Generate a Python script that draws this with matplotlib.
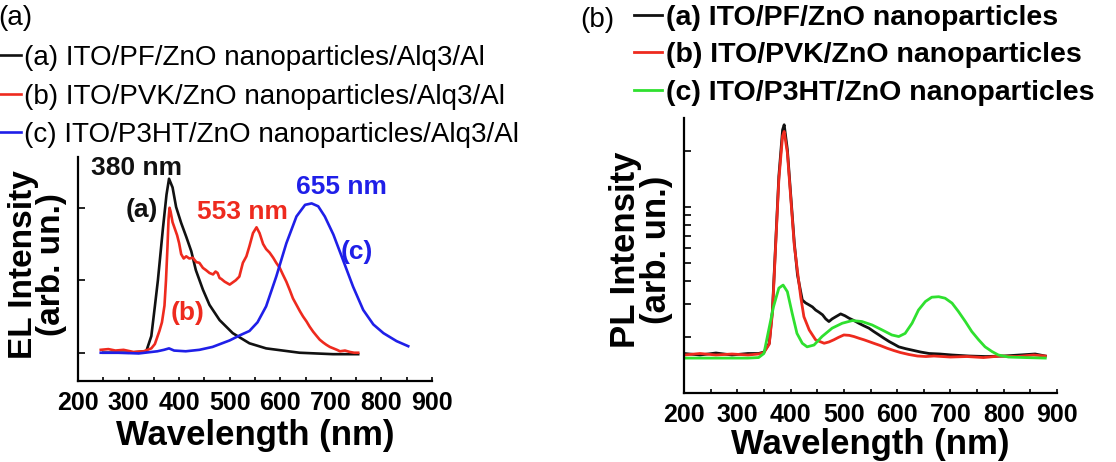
import matplotlib
matplotlib.use('Agg')
import matplotlib.pyplot as plt
from matplotlib.ticker import MultipleLocator, FixedLocator, NullFormatter

plt.rcParams['font.family'] = ['Liberation Sans', 'DejaVu Sans']

# ---- EL spectra (left panel), intensity in arbitrary units ----
el_wl_a = [250, 300, 335, 345, 352, 358, 368, 375, 380, 387, 394, 404, 414, 424,
           433, 447, 460, 480, 506, 539, 572, 638, 704, 754]
el_a = [0.0, 0.0, 0.02, 0.23, 0.64, 1.0, 1.72, 2.18, 2.4, 2.28, 2.01, 1.79, 1.6, 1.4,
        1.14, 0.87, 0.66, 0.45, 0.27, 0.13, 0.06, 0.0, -0.02, -0.02]

el_wl_b = [245, 260, 274, 290, 310, 330, 345, 352, 356, 361, 366, 371, 374, 377, 379,
           381, 383, 387, 391, 396, 400, 404, 409, 414, 420, 427, 434, 440, 447, 453,
           460, 467, 472, 476, 480, 483, 490, 500, 506, 512, 519, 526, 533, 539, 546,
           553, 559, 566, 572, 579, 586, 592, 599, 605, 612, 619, 625, 632, 639, 645,
           652, 658, 665, 672, 678, 685, 691, 698, 705, 712, 718, 728, 738, 746, 754]
el_b = [0.04, 0.05, 0.03, 0.04, 0.01, 0.02, 0.06, 0.12, 0.2, 0.3, 0.42, 0.65, 1.0, 1.47, 1.84,
        2.0, 1.95, 1.8, 1.72, 1.62, 1.51, 1.36, 1.3, 1.33, 1.3, 1.31, 1.25, 1.24, 1.17, 1.14,
        1.1, 1.08, 1.12, 1.1, 1.03, 1.02, 0.98, 0.94, 0.97, 1.0, 1.05, 1.24, 1.33, 1.47, 1.65,
        1.73, 1.65, 1.5, 1.43, 1.38, 1.31, 1.24, 1.17, 1.08, 0.98, 0.86, 0.75, 0.66, 0.57, 0.5,
        0.43, 0.36, 0.29, 0.23, 0.18, 0.14, 0.11, 0.08, 0.06, 0.04, 0.02, 0.03, 0.01, 0.0, 0.0]

el_wl_c = [245, 280, 320, 357, 370, 380, 390, 413, 440, 466, 500, 520, 539, 555, 572,
           592, 612, 632, 649, 662, 675, 688, 705, 724, 744, 764, 784, 804, 830, 853]
el_c = [0.0, 0.0, -0.01, 0.02, 0.04, 0.06, 0.03, 0.02, 0.04, 0.08, 0.17, 0.24, 0.3, 0.42, 0.64,
        1.05, 1.51, 1.88, 2.04, 2.06, 2.02, 1.88, 1.63, 1.28, 0.91, 0.59, 0.39, 0.27, 0.16, 0.09]

# ---- PL spectra (right panel), log intensity axis ----
pl_wl_a = [200, 230, 260, 290, 320, 340, 350, 360, 366, 372, 378, 385, 388, 394, 400,
           407, 413, 419, 422, 428, 435, 441, 447, 453, 460, 466, 472, 478, 485, 494,
           502, 510, 519, 528, 537, 547, 556, 566, 575, 585, 594, 603, 616, 628, 644,
           660, 680, 703, 735, 766, 800, 830, 859, 878]
pl_a = [1.63, 1.6, 1.64, 1.6, 1.63, 1.63, 1.66, 1.85, 2.79, 6.38, 14.6, 25.9, 27.6, 20.3, 11.9,
        6.4, 4.3, 3.5, 3.16, 3.05, 2.97, 2.9, 2.79, 2.72, 2.63, 2.5, 2.42, 2.5, 2.57, 2.66,
        2.6, 2.52, 2.45, 2.37, 2.3, 2.23, 2.14, 2.05, 1.97, 1.89, 1.83, 1.77, 1.73, 1.7, 1.66,
        1.63, 1.62, 1.6, 1.58, 1.57, 1.58, 1.6, 1.62, 1.58]

pl_wl_b = [200, 230, 260, 290, 320, 340, 350, 360, 366, 372, 378, 385, 388, 394, 400,
           407, 413, 419, 425, 435, 447, 463, 472, 481, 490, 500, 510, 519, 528, 538,
           547, 556, 568, 581, 594, 606, 622, 638, 654, 669, 700, 731, 762, 793, 825,
           856, 878]
pl_b = [1.6, 1.63, 1.6, 1.62, 1.6, 1.62, 1.65, 1.83, 2.7, 6.2, 14.0, 24.0, 25.4, 19.5, 11.5,
        6.2, 4.5, 3.29, 2.57, 2.18, 1.93, 1.85, 1.88, 1.93, 1.99, 2.05, 2.04, 2.01, 1.97, 1.93,
        1.89, 1.85, 1.8, 1.74, 1.69, 1.65, 1.61, 1.58, 1.57, 1.58, 1.56, 1.57, 1.55, 1.58, 1.57,
        1.6, 1.58]

pl_wl_c = [200, 260, 320, 340, 350, 359, 368, 378, 386, 394, 403, 412, 422, 431, 444,
           459, 478, 497, 516, 534, 553, 572, 590, 603, 615, 628, 640, 653, 665, 678,
           690, 703, 715, 728, 740, 753, 765, 778, 790, 809, 840, 878]
pl_c = [1.54, 1.54, 1.54, 1.55, 1.63, 2.18, 2.91, 3.66, 3.8, 3.5, 2.68, 2.09, 1.85, 1.77, 1.81,
        2.01, 2.23, 2.37, 2.45, 2.42, 2.32, 2.18, 2.05, 2.01, 2.09, 2.37, 2.79, 3.1, 3.27, 3.29,
        3.23, 3.04, 2.74, 2.42, 2.14, 1.93, 1.77, 1.67, 1.6, 1.56, 1.55, 1.54]

el_labels = ['(a) ITO/PF/ZnO nanoparticles/Alq3/Al',
             '(b) ITO/PVK/ZnO nanoparticles/Alq3/Al',
             '(c) ITO/P3HT/ZnO nanoparticles/Alq3/Al']
pl_labels = ['(a) ITO/PF/ZnO nanoparticles',
             '(b) ITO/PVK/ZnO nanoparticles',
             '(c) ITO/P3HT/ZnO nanoparticles']
wl_ticks = [200, 300, 400, 500, 600, 700, 800, 900]

BLACK = '#111111'
RED = '#ee2a1e'
BLUE = '#1f1fe8'
GREEN = '#2fe02f'

W, H = 1116, 462
fig = plt.figure(figsize=(W / 100, H / 100), dpi=100)


def style_axes(ax):
    for side in ('top', 'right'):
        ax.spines[side].set_visible(False)
    for side in ('left', 'bottom'):
        ax.spines[side].set_linewidth(1.6)
    ax.set_xlim(200, 900)
    ax.set_xticks(wl_ticks)
    ax.set_xticklabels([str(t) for t in wl_ticks], fontweight='bold')
    ax.xaxis.set_minor_locator(MultipleLocator(50))
    ax.tick_params(axis='x', which='both', direction='in', length=3, width=1.2,
                   labelsize=18, pad=7)
    ax.tick_params(axis='y', which='both', direction='in', length=5, width=1.2,
                   labelleft=False)
    ax.set_xlabel('Wavelength (nm)', fontsize=25, fontweight='bold')


# ---- left panel: EL ----
ax1 = fig.add_axes([78 / W, 1 - 381 / H, 354 / W, 224 / H])
l1, = ax1.plot(el_wl_a, el_a, color=BLACK, lw=1.9)
l2, = ax1.plot(el_wl_b, el_b, color=RED, lw=1.9)
l3, = ax1.plot(el_wl_c, el_c, color=BLUE, lw=1.9)
style_axes(ax1)
ax1.set_ylim(-0.39, 2.7)
ax1.set_yticks([0, 1, 2])
ax1.set_ylabel('EL Intensity\n(arb. un.)', fontsize=24, fontweight='bold',
               linespacing=0.9)
ax1.yaxis.set_label_coords(-0.03, 0.52)
ax1.xaxis.set_label_coords(0.5, -0.17)

ann = dict(fontsize=19, fontweight='bold', ha='center', va='center')
ax1.text(316, 2.55, '380 nm', color=BLACK, **ann)
ax1.text(327, 1.97, '(a)', color=BLACK, **ann)
ax1.text(525, 1.94, '553 nm', color=RED, **ann)
ax1.text(720, 2.28, '655 nm', color=BLUE, **ann)
ax1.text(752, 1.39, '(c)', color=BLUE, **ann)
ax1.text(416, 0.55, '(b)', color=RED, **ann)

fig.legend([l1, l2, l3], el_labels, loc='upper left',
           bbox_to_anchor=(0.0, 1 - 45 / H), frameon=False, fontsize=20,
           borderpad=0, borderaxespad=0, handlelength=0.75, handletextpad=0.1,
           labelspacing=0.45)
fig.text(-2 / W, 1 - 18 / H, '(a)', fontsize=20, ha='left', va='center')

# ---- right panel: PL ----
ax2 = fig.add_axes([684 / W, 1 - 393 / H, 373 / W, 275 / H])
m1, = ax2.plot(pl_wl_a, pl_a, color=BLACK, lw=2.0)
m2, = ax2.plot(pl_wl_b, pl_b, color=RED, lw=2.0)
m3, = ax2.plot(pl_wl_c, pl_c, color=GREEN, lw=2.0)
style_axes(ax2)
ax2.set_yscale('log')
ax2.set_ylim(1, 30)
ax2.yaxis.set_major_locator(FixedLocator([10]))
ax2.yaxis.set_minor_locator(FixedLocator([2, 3, 4, 5, 6, 7, 8, 9, 20]))
ax2.yaxis.set_major_formatter(NullFormatter())
ax2.yaxis.set_minor_formatter(NullFormatter())
ax2.tick_params(axis='y', which='both', direction='in', length=5, width=1.2)
ax2.set_ylabel('PL Intensity\n(arb. un.)', fontsize=25, fontweight='bold',
               linespacing=0.9)
ax2.yaxis.set_label_coords(-0.03, 0.52)
ax2.xaxis.set_label_coords(0.5, -0.128)

fig.legend([m1, m2, m3], pl_labels, loc='upper left',
           bbox_to_anchor=(634 / W, 1 - 5 / H), frameon=False,
           prop={'size': 20.5, 'weight': 'bold'},
           borderpad=0, borderaxespad=0, handlelength=1.0, handletextpad=0.12,
           labelspacing=0.4)
fig.text(580 / W, 1 - 20 / H, '(b)', fontsize=20, ha='left', va='center')

fig.savefig('out.png', dpi=100)
